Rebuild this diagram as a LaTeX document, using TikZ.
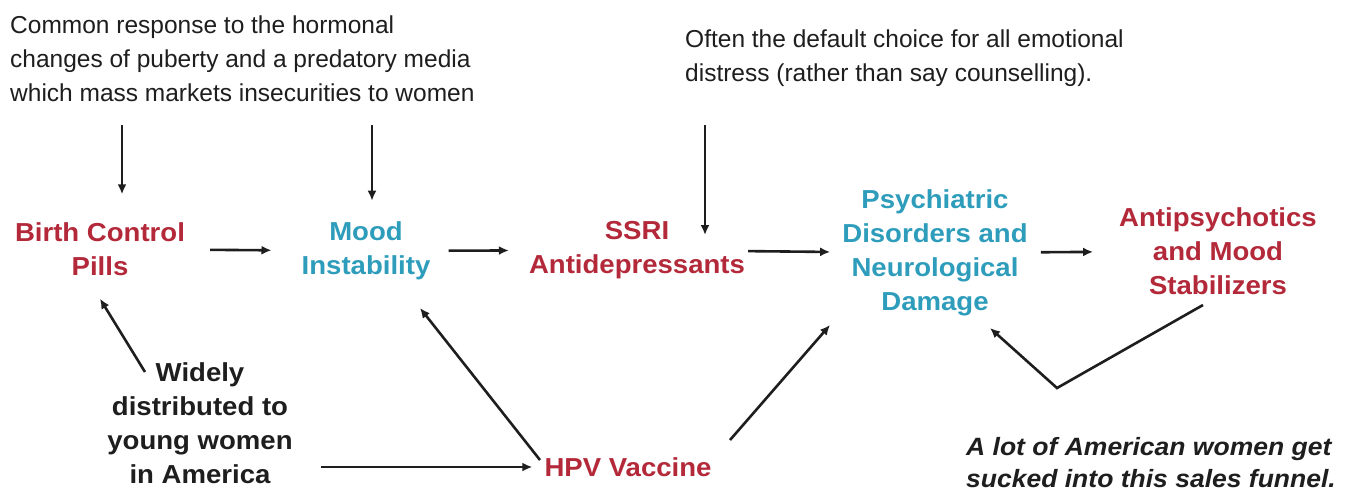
\documentclass[tikz,border=0pt]{standalone}
\usepackage{fontspec}
\setmainfont{Liberation Sans}
\newfontfamily\bxfont{Liberation Sans}[FakeStretch=1.06]
\usetikzlibrary{arrows.meta}
\definecolor{myred}{HTML}{B3293A}
\definecolor{myteal}{HTML}{2E9DBB}
\definecolor{ink}{HTML}{1E1E1E}
\begin{document}
\begin{tikzpicture}[x=1pt,y=-1pt,
  arr/.style={-{Latex[length=10pt,width=9pt]}, line width=2.6pt, draw=ink},
  note/.style={font=\fontsize{24.5}{34}\selectfont, align=left, inner sep=0pt, text=ink},
  box/.style={font=\bxfont\fontsize{26}{34}\selectfont\bfseries, align=center, inner sep=2pt},
  redbox/.style={box, text=myred},
  tealbox/.style={box, text=myteal}]
\path[use as bounding box, fill=white] (0,0) rectangle (1364,491);
% texts
\node[note, anchor=north west] (n1) at (10,16) {Common response to the hormonal\\changes of puberty and a predatory media\\which mass markets insecurities to women};
\node[note, anchor=north west] (n2) at (685,30) {Often the default choice for all emotional\\distress (rather than say counselling).};
\node[redbox] (bcp) at (100,249) {Birth Control\\Pills};
\node[tealbox] (mood) at (366,251) {Mood\\Instability};
\node[redbox] (ssri) at (637,250) {SSRI\\Antidepressants};
\node[tealbox] (psych) at (935,253) {Psychiatric\\Disorders and\\Neurological\\Damage};
\node[redbox] (anti) at (1218,251) {Antipsychotics\\and Mood\\Stabilizers};
\node[box, text=ink] (wide) at (200,423) {Widely\\distributed to\\young women\\in America};
\node[redbox] (hpv) at (628,467) {HPV Vaccine};
\node[note, font=\bxfont\fontsize{25}{32}\selectfont\bfseries\itshape, anchor=north west] (n3) at (966,437) {A lot of American women get\\sucked into this sales funnel.};
% top arrows
\coordinate (a1) at (122,125);
\coordinate (a2) at (372,125);
\coordinate (a3) at (705,125);
\draw[arr, shorten >=26pt] (a1) -- (a1 |- bcp.north);
\draw[arr, shorten >=19pt] (a2) -- (a2 |- mood.north);
\draw[arr, shorten >=-16pt] (a3) -- (a3 |- ssri.north);
% main chain
\draw[arr, shorten <=23pt, shorten >=28pt] (bcp) -- (mood);
\draw[arr, shorten <=16pt, shorten >=18pt] (mood) -- (ssri);
\draw[arr, shorten <=1pt, shorten >=10pt] (ssri) -- (psych);
\draw[arr, shorten <=11pt, shorten >=24pt] (psych) -- (anti);
% lower arrows
\coordinate (w1) at (145,372);
\draw[arr] (w1) -- ([yshift=-21pt]bcp.south);
\draw[arr, shorten <=26pt, shorten >=10pt] (wide.east |- hpv.west) -- (hpv.west);
\coordinate (h1) at (540,460);
\coordinate (h2) at (730,440);
\draw[arr] (h1) -- (420,308);
\draw[arr] (h2) -- (830,325);
\coordinate (v) at (1057,388);
\coordinate (f1) at (1203,305);
\draw[arr] (f1) -- (v) -- (990,328);
\end{tikzpicture}
\end{document}
